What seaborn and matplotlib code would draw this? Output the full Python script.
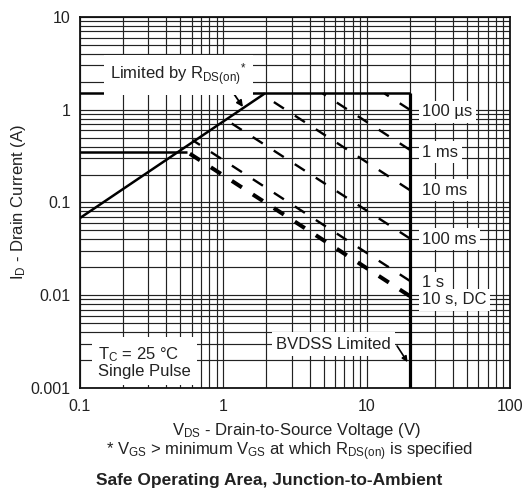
import matplotlib
matplotlib.use("Agg")
import matplotlib.pyplot as plt
import matplotlib.ticker as mticker
import seaborn as sns

# ---------------- data ----------------
x_ticks = [0.1, 1, 10, 100]
y_ticks = [0.001, 0.01, 0.1, 1, 10]

# package / RDS(on) / BVDSS limits
id_max = 1.5            # A, top current limit
bvdss = 20.0            # V
rds_v = [0.1, 1.95]     # V, RDS(on) limit line
rds_i = [0.068, 1.5]    # A
dc_flat_v = [0.1, 0.56] # V, low-voltage DC limit
dc_flat_i = [0.35, 0.35]

# pulse (constant-power) lines
pulse_labels = ["100 µs", "1 ms", "10 ms", "100 ms", "1 s", "10 s, DC"]
pulse_v_start = [13.3, 4.93, 1.88, 1.03, 0.61, 0.56]
pulse_i_start = [1.5, 1.5, 1.45, 0.79, 0.47, 0.35]
pulse_v_end = [20.0, 20.0, 20.0, 20.0, 20.0, 20.0]
pulse_i_end = [1.0, 0.37, 0.136, 0.041, 0.0143, 0.0098]
label_i = [0.946, 0.35, 0.136, 0.0403, 0.0136, 0.0089]
label_v = 24.4

# ---------------- style ----------------
sns.set_theme(style="white")
plt.rcParams["font.family"] = ["Liberation Sans", "DejaVu Sans"]
plt.rcParams["mathtext.fontset"] = "custom"
plt.rcParams["mathtext.rm"] = "Liberation Sans"
plt.rcParams["mathtext.it"] = "Liberation Sans:italic"
plt.rcParams["mathtext.bf"] = "Liberation Sans:bold"
plt.rcParams["lines.scale_dashes"] = False

INK = "#222222"
FS = 12
fig = plt.figure(figsize=(5.27, 4.91), dpi=100)
ax = fig.add_axes([0.1518, 0.2098, 0.8159, 0.7556])
ax.set_xscale("log")
ax.set_yscale("log")
ax.set_xlim(x_ticks[0], x_ticks[-1])
ax.set_ylim(y_ticks[0], y_ticks[-1])

ax.xaxis.set_major_locator(mticker.FixedLocator(x_ticks))
ax.yaxis.set_major_locator(mticker.FixedLocator(y_ticks))
ax.xaxis.set_minor_locator(mticker.LogLocator(base=10, subs=range(2, 10)))
ax.yaxis.set_minor_locator(mticker.LogLocator(base=10, subs=range(2, 10)))
fmt = mticker.FuncFormatter(lambda v, p: f"{v:g}")
ax.xaxis.set_major_formatter(fmt)
ax.yaxis.set_major_formatter(fmt)
ax.xaxis.set_minor_formatter(mticker.NullFormatter())
ax.yaxis.set_minor_formatter(mticker.NullFormatter())
ax.grid(True, which="both", color="#222222", linewidth=0.85)
ax.set_axisbelow(True)
ax.tick_params(which="both", length=0, labelsize=11.5, colors=INK)
ax.tick_params(axis="x", pad=8)
ax.tick_params(axis="y", pad=7)
for s in ax.spines.values():
    s.set_color("#111111")
    s.set_linewidth(1.3)


def draw(xs, ys, lw, dashed=False):
    sns.lineplot(x=xs, y=ys, ax=ax, color="black", linewidth=lw,
                 sort=False, estimator=None, legend=False)
    ln = ax.lines[-1]
    ln.set_solid_capstyle("butt")
    ln.set_zorder(4)
    if dashed:
        ln.set_dashes((8.6, 9.4))
        ln.set_dash_capstyle("butt")
    return ln


# limits
draw([x_ticks[0], bvdss], [id_max, id_max], 1.8)
draw([bvdss, bvdss], [y_ticks[0], id_max], 2.3)
draw(rds_v, rds_i, 1.8)
draw(dc_flat_v, dc_flat_i, 1.8)

# pulse lines (drawn from the BVDSS end so a dash touches it)
pulse_lw = [1.7, 1.7, 1.7, 1.7, 1.7, 2.9]
for vs, is_, ve, ie, lw in zip(pulse_v_start, pulse_i_start, pulse_v_end, pulse_i_end, pulse_lw):
    draw([ve, vs], [ie, is_], lw, dashed=True)

box = dict(boxstyle="square,pad=0.2", fc="white", ec="none")
for lab, yi in zip(pulse_labels, label_i):
    ax.text(label_v, yi, lab, ha="left", va="center", fontsize=FS,
            color=INK, bbox=box, zorder=6)

# annotations
ax.annotate("", xy=(1.37, 1.07), xytext=(1.11, 1.72),
            arrowprops=dict(arrowstyle="-|>", color="black", lw=1.3,
                            mutation_scale=9, shrinkA=0, shrinkB=0), zorder=5)
ax.text(0.487, 2.37, r"Limited by R$_{\mathrm{DS(on)}}$$^{*}$", ha="center", va="center",
        fontsize=FS, color=INK,
        bbox=dict(boxstyle="square,pad=0.4", fc="white", ec="none"), zorder=6)

ax.annotate("", xy=(19.3, 0.0019), xytext=(16.3, 0.00284),
            arrowprops=dict(arrowstyle="-|>", color="black", lw=1.2,
                            mutation_scale=8, shrinkA=0, shrinkB=0), zorder=5)
ax.text(5.83, 0.00298, "BVDSS Limited", ha="center", va="center",
        fontsize=FS, color=INK,
        bbox=dict(boxstyle="square,pad=0.25", fc="white", ec="none"), zorder=6)

ax.text(0.1335, 0.0019, "T$_{\\mathrm{C}}$ = 25 °C\nSingle Pulse", ha="left", va="center",
        fontsize=FS, color=INK, linespacing=1.05,
        bbox=dict(boxstyle="square,pad=0.35", fc="white", ec="none"), zorder=6)

# axis labels & captions
ax.set_ylabel(r"I$_{\mathrm{D}}$ - Drain Current (A)", fontsize=FS, color=INK)
ax.yaxis.set_label_coords(-0.122, 0.5)
ax.set_xlabel("")
fig.text(0.562, 1 - 430 / 491, r"V$_{\mathrm{DS}}$ - Drain-to-Source Voltage (V)",
         ha="center", va="center", fontsize=FS, color=INK)
fig.text(0.55, 1 - 452 / 491,
         r"* V$_{\mathrm{GS}}$ > minimum V$_{\mathrm{GS}}$ at which R$_{\mathrm{DS(on)}}$ is specified",
         ha="center", va="center", fontsize=FS, color=INK)
fig.text(0.51, 1 - 480 / 491, "Safe Operating Area, Junction-to-Ambient",
         ha="center", va="center", fontsize=12.5, fontweight="bold", color=INK)

fig.savefig("out.png", dpi=100, facecolor="white")
